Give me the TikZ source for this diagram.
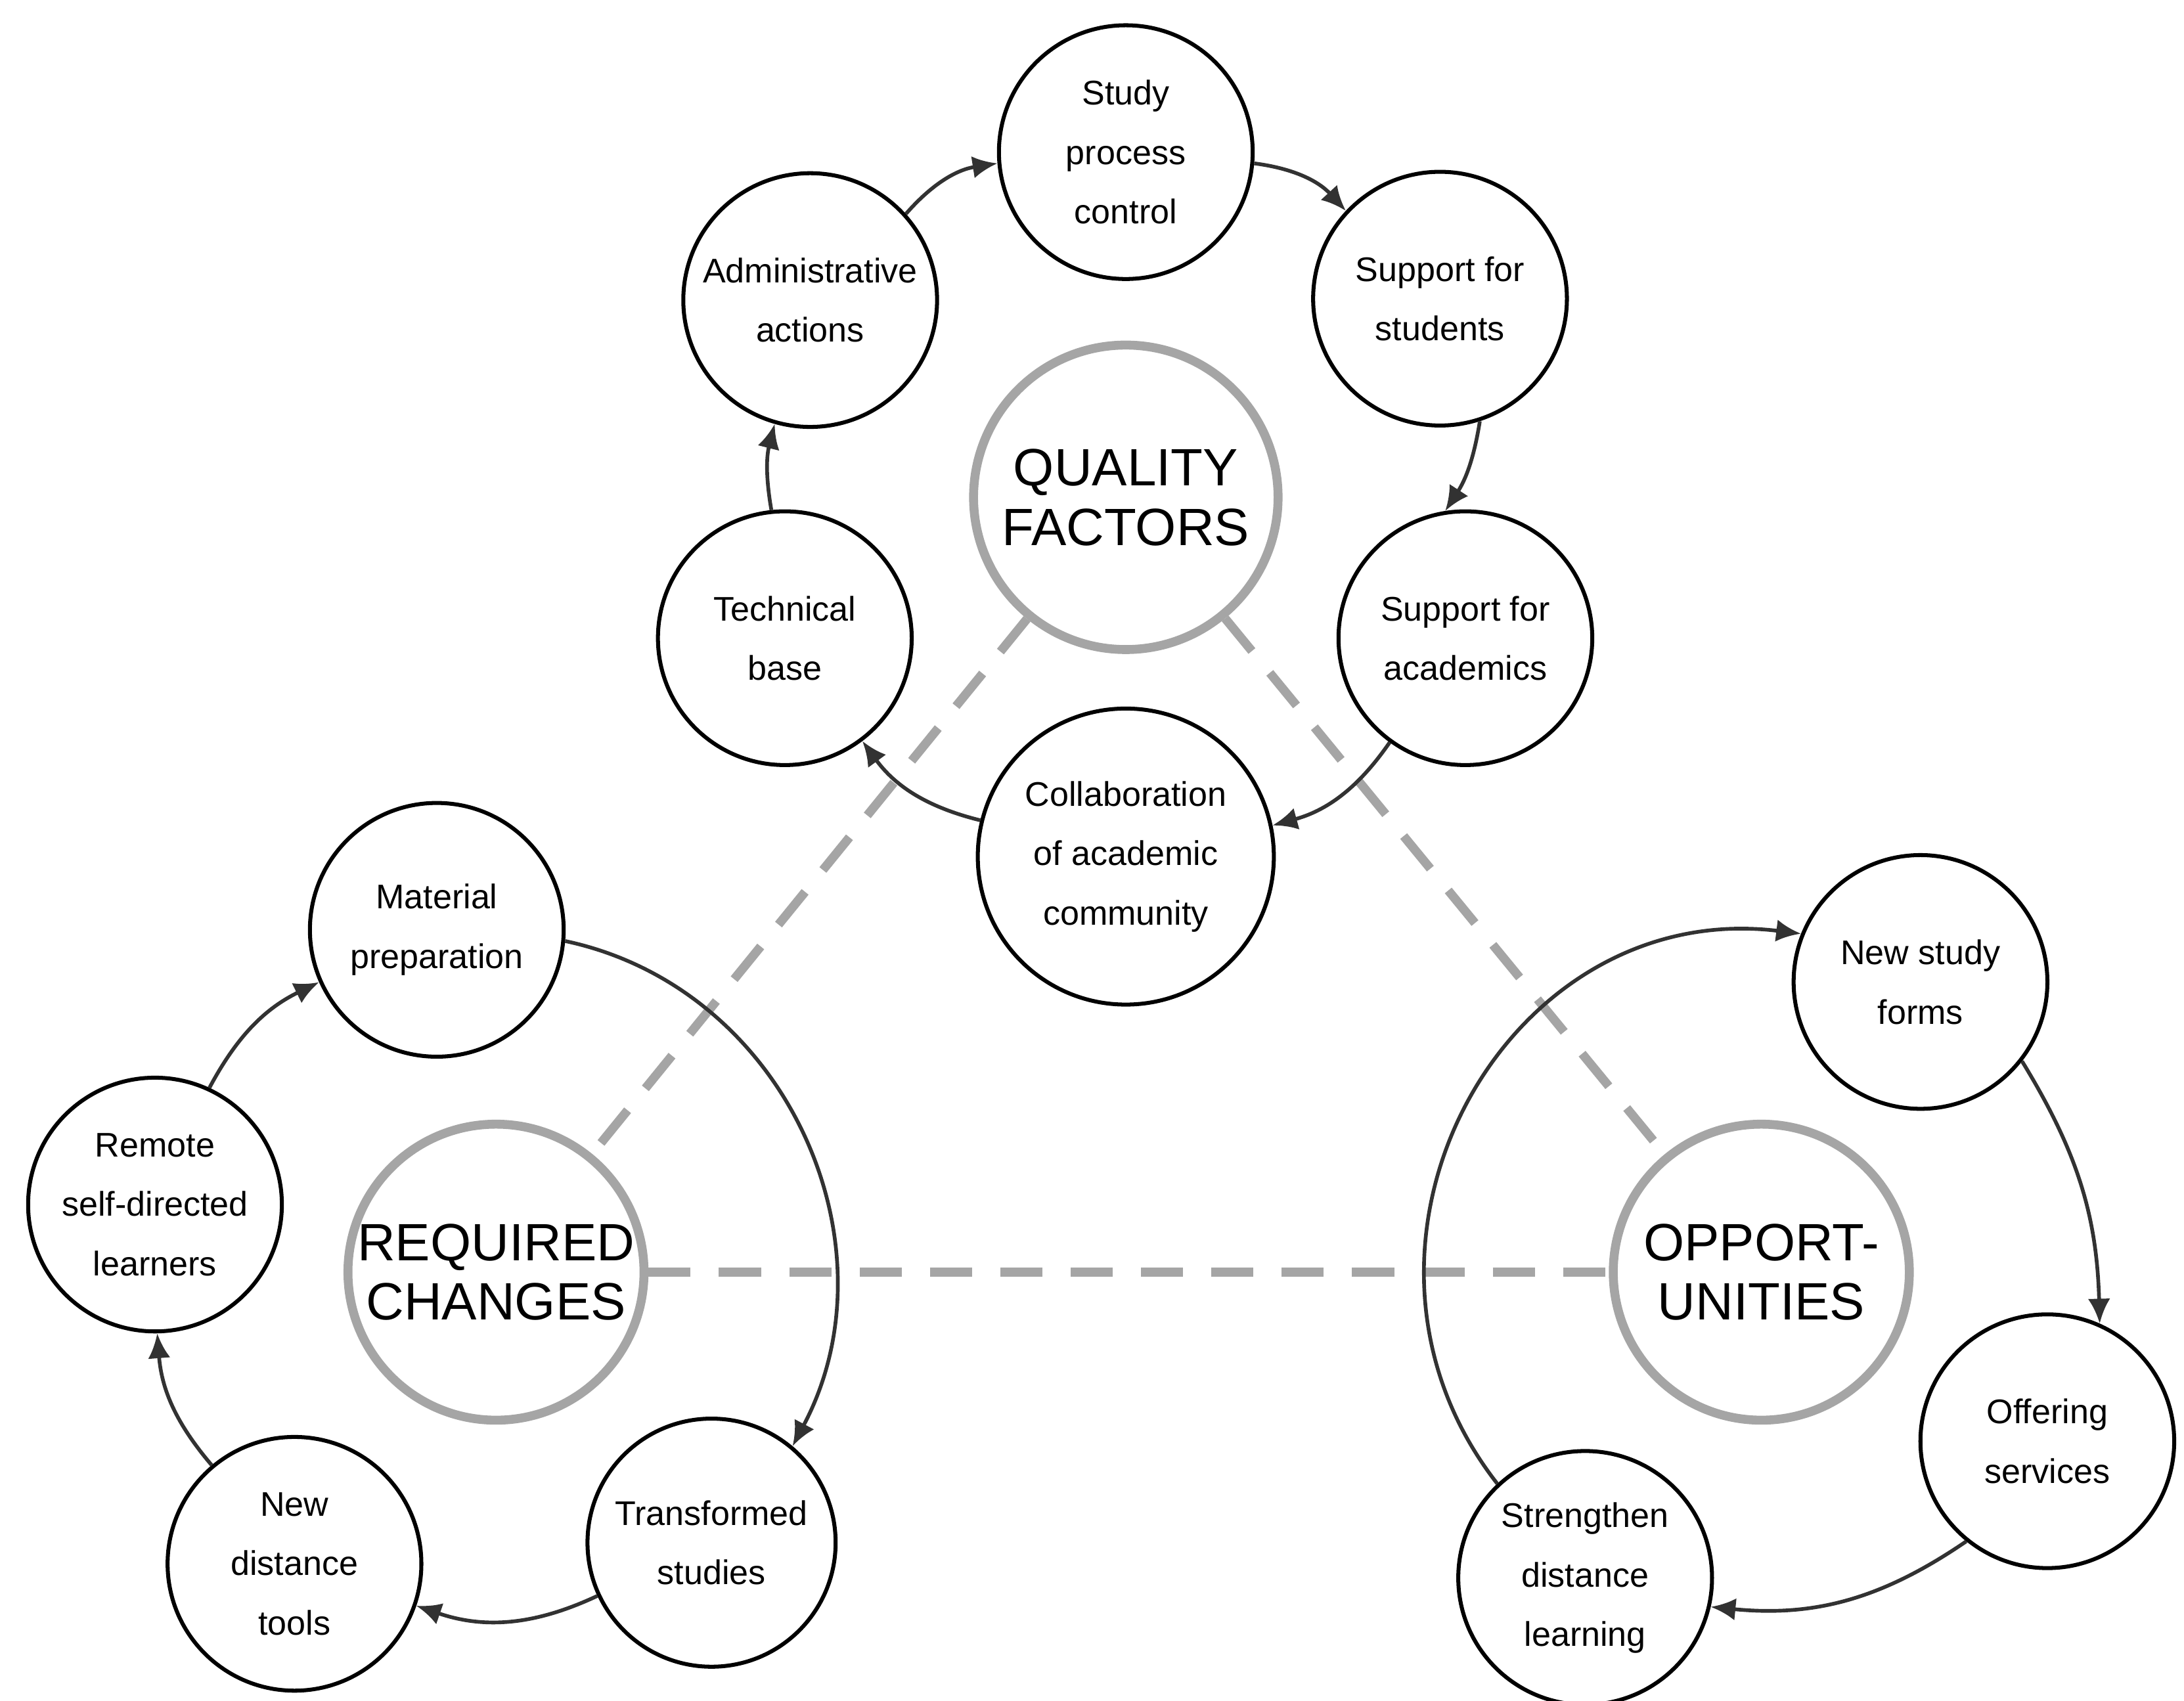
\documentclass[tikz,border=0pt]{standalone}
\usepackage{fontspec}
\setmainfont{Liberation Sans}
\usetikzlibrary{arrows.meta}
\definecolor{hub}{RGB}{165,165,165}
\definecolor{arr}{RGB}{50,50,50}
\begin{document}
\begin{tikzpicture}[
  x=0.01cm,y=-0.01cm,
  f/.style={circle,draw=black,line width=0.8pt,minimum size=1.8cm,inner sep=0pt,align=center,font=\fontsize{6.9}{12}\selectfont},
  big/.style={f,minimum size=2.1cm},
  hubn/.style={circle,draw=hub,line width=1.8pt,minimum size=2.1cm,inner sep=0pt,align=center,font=\fontsize{10.6}{12}\selectfont},
  a/.style={draw=arr,line width=0.75pt,-{Latex[length=5pt,width=4.5pt]}},
  d/.style={draw=hub,line width=1.8pt,dash pattern=on 8.5pt off 5.7pt}
]
\useasboundingbox (0,0) rectangle (1550,1207);
\node[hubn,minimum size=2.16cm] (qf) at (799,353) {QUALITY\\FACTORS};
\node[hubn] (rc) at (352,903) {REQUIRED\\CHANGES};
\node[hubn] (op) at (1250,903) {OPPORT-\\UNITIES};
\draw[d] (qf) -- (rc);
\draw[d] (qf) -- (op);
\draw[d] (rc) -- (op);

\node[f] (sp) at (799,108) {Study\\process\\control};
\node[f] (ad) at (575,213) {Administrative\\actions};
\node[f] (ss) at (1022,212) {Support for\\students};
\node[f] (tb) at (557,453) {Technical\\base};
\node[f] (sa) at (1040,453) {Support for\\academics};
\node[big] (co) at (799,608) {Collaboration\\of academic\\community};

\node[f] (mp) at (310,660) {Material\\preparation};
\node[f] (rl) at (110,855) {Remote\\self-directed\\learners};
\node[f] (nt) at (209,1110) {New\\distance\\tools};
\node[f,minimum size=1.76cm] (ts) at (505,1095) {Transformed\\studies};

\node[f] (ns) at (1363,697) {New study\\forms};
\node[f] (os) at (1453,1023) {Offering\\services};
\node[f] (sd) at (1125,1120) {Strengthen\\distance\\learning};

\draw[a] (ad.42) to[bend left=20] (sp.185);
\draw[a] (sp.-5) to[bend left=20] (ss.137);
\draw[a] (ss.-72) to[bend left=12] (sa.99);
\draw[a] (sa.-126) to[bend left=20] (co.12);
\draw[a] (co.166) to[bend left=20] (tb.-53);
\draw[a] (tb.96) to[bend left=12] (ad.-106);

\draw[a] (mp.-5) to[out=-12,in=62,looseness=1.05] (ts.50);
\draw[a] (ts.-155) to[bend left=22] (nt.-19);
\draw[a] (nt.130) to[bend left=18] (rl.-89);
\draw[a] (rl.65) to[bend left=18] (mp.204);

\draw[a] (sd.133) to[out=128,in=173,looseness=1.22] (ns.158);
\draw[a] (ns.-38) to[bend left=15] (os.66);
\draw[a] (os.-129) to[bend left=20] (sd.-13);
\end{tikzpicture}
\end{document}
